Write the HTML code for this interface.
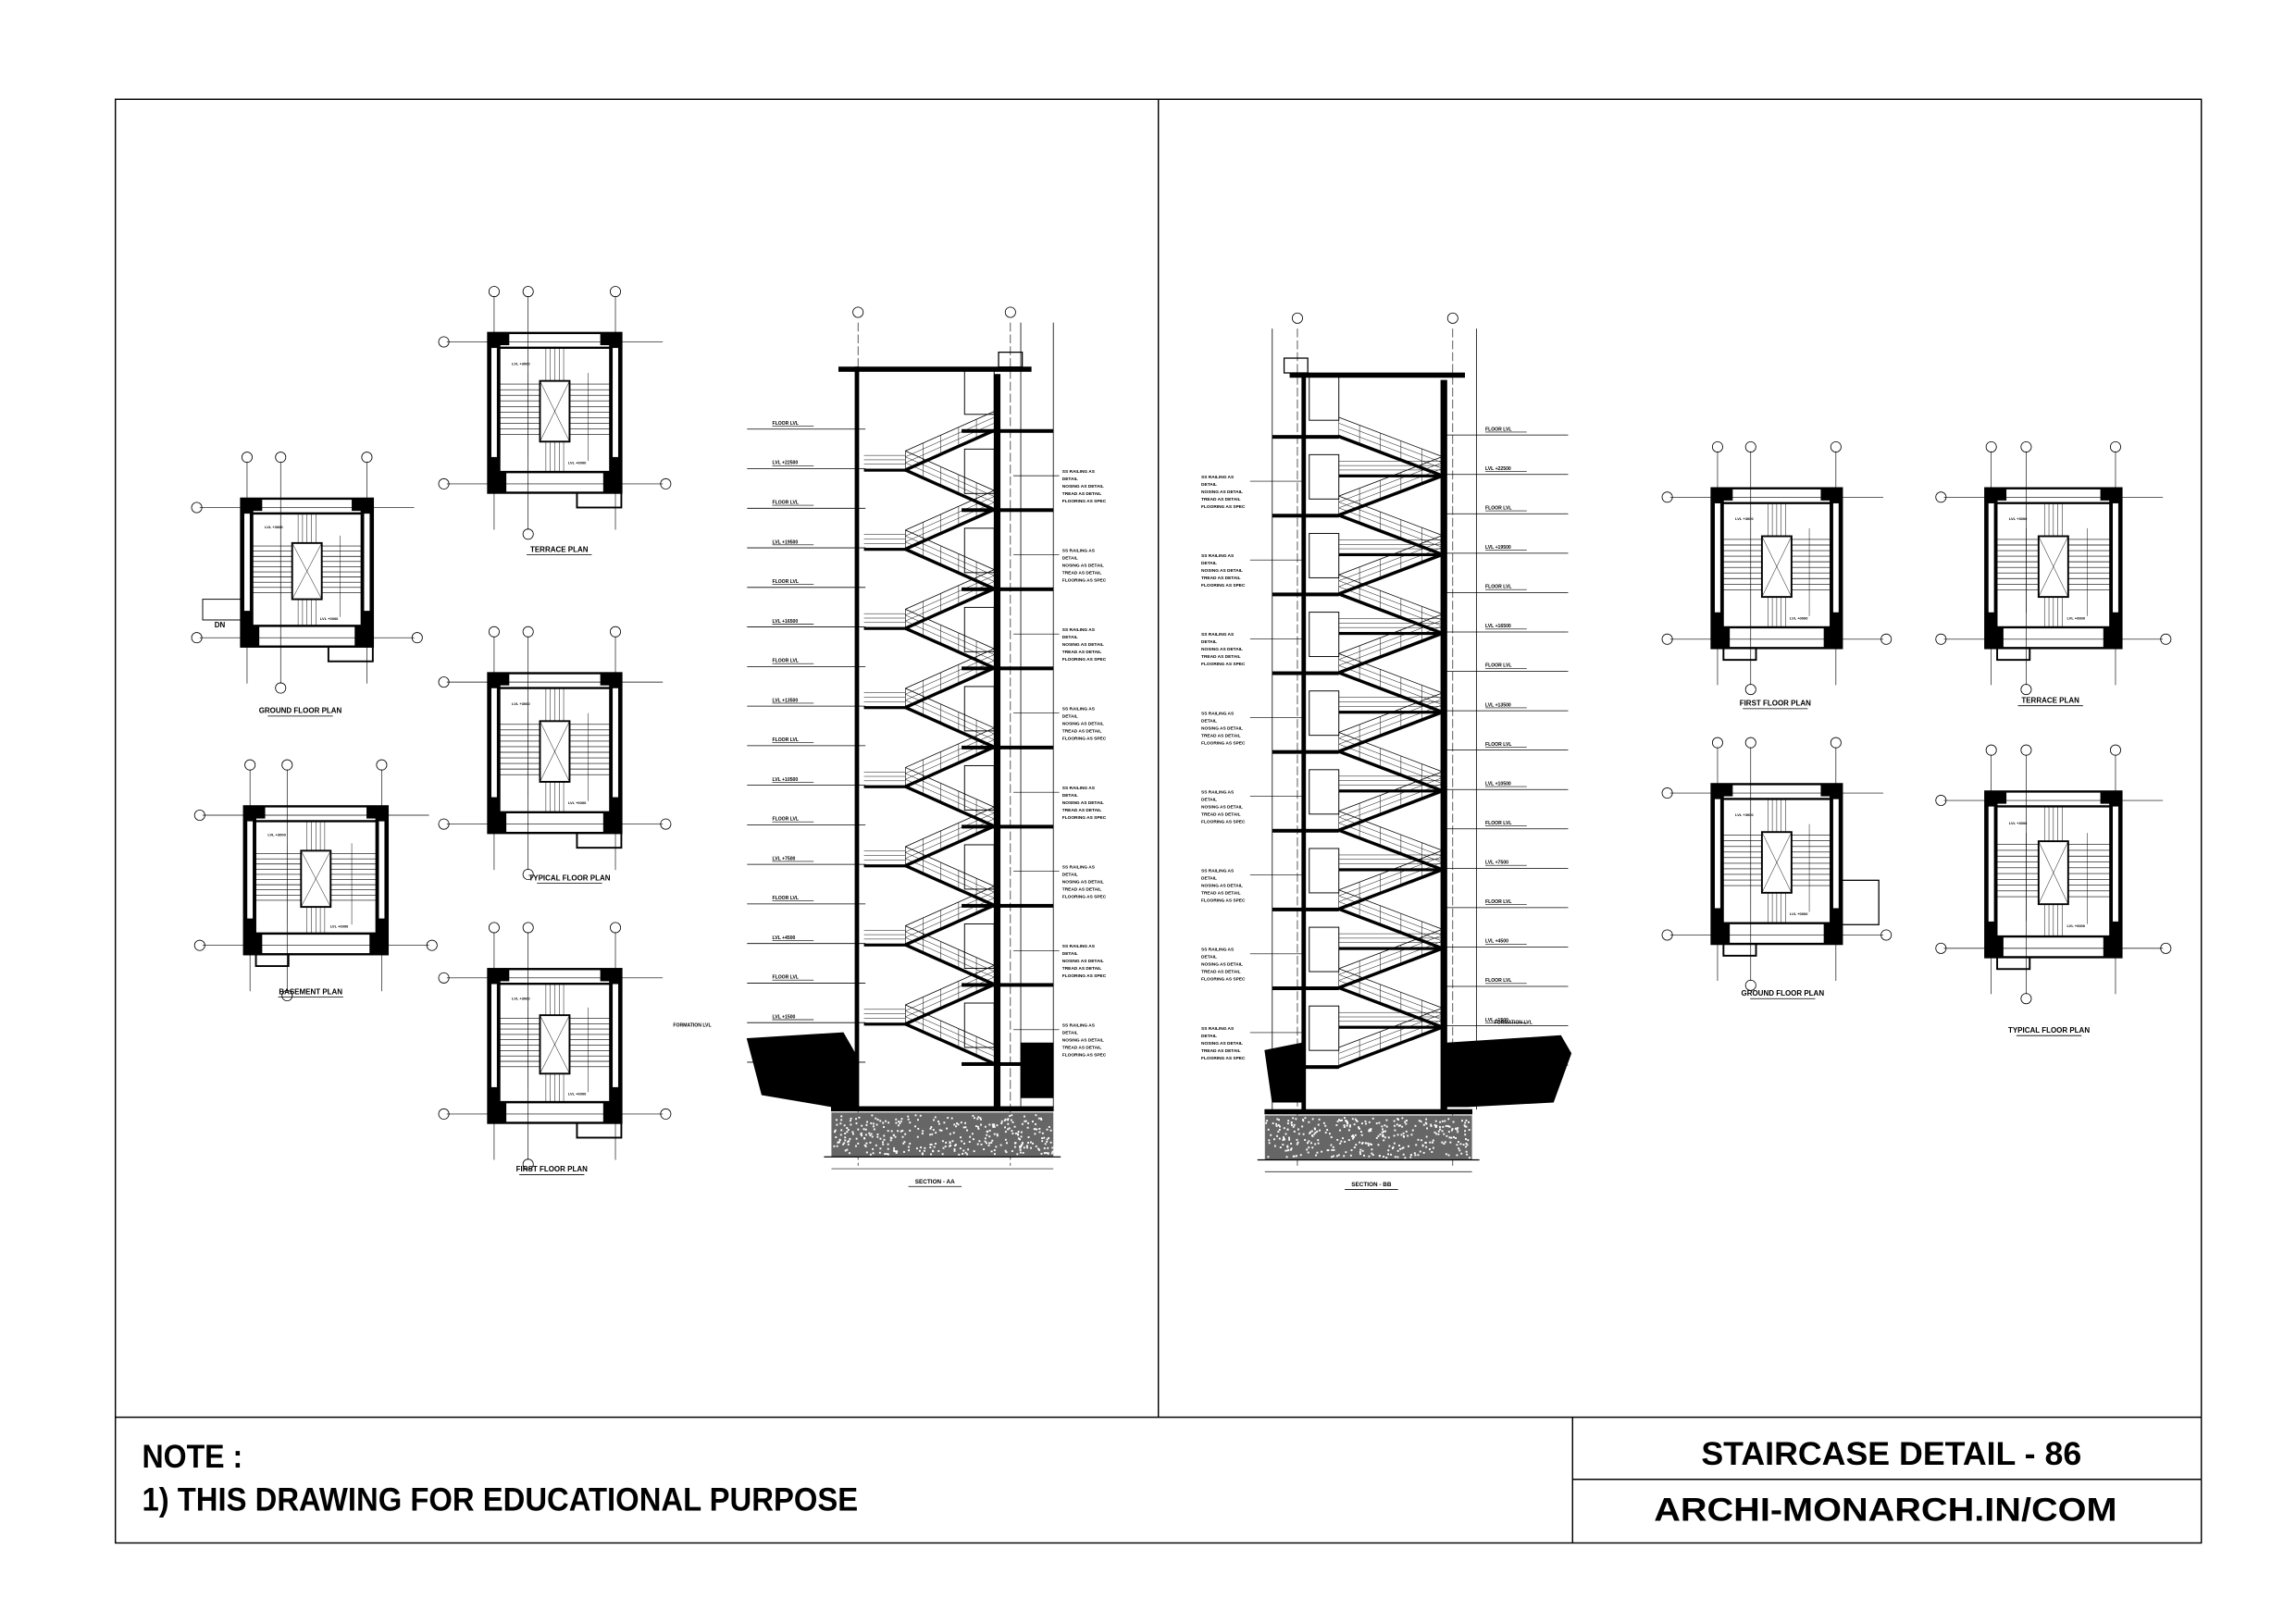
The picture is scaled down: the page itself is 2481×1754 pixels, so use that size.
<!DOCTYPE html>
<html><head><meta charset="utf-8"><style>
html,body{margin:0;padding:0;background:#fff;}
svg{display:block;}
</style></head><body>
<svg id="s" xmlns="http://www.w3.org/2000/svg" width="2481" height="1754" viewBox="0 0 1552 1097">
<rect x="0" y="0" width="1552" height="1097" fill="#fff"/>
<g fill="none" stroke="#000" stroke-width="0.9">
<rect x="78" y="67" width="1410" height="976"/>
<line x1="783" y1="67" x2="783" y2="958"/>
<line x1="78" y1="958" x2="1488" y2="958"/>
<line x1="1063" y1="958" x2="1063" y2="1043"/>
<line x1="1063" y1="1000" x2="1488" y2="1000"/>
</g>
<g font-family="'Liberation Sans Narrow','Liberation Sans',sans-serif" font-weight="bold" font-size="22" fill="#000">
<text x="96" y="992" textLength="68" lengthAdjust="spacingAndGlyphs">NOTE :</text>
<text x="96" y="1021" textLength="484" lengthAdjust="spacingAndGlyphs">1) THIS DRAWING FOR EDUCATIONAL PURPOSE</text>
<text x="1150" y="990" textLength="257" lengthAdjust="spacingAndGlyphs">STAIRCASE DETAIL - 86</text>
<text x="1118" y="1028" textLength="313" lengthAdjust="spacingAndGlyphs">ARCHI-MONARCH.IN/COM</text>
</g>
<g id="d" stroke="#000" fill="none" stroke-width="0.5"></g>
</svg>
<script>
var NS="http://www.w3.org/2000/svg",G=document.getElementById('d');
function el(t,a,p){var e=document.createElementNS(NS,t);for(var k in a)e.setAttribute(k,a[k]);(p||G).appendChild(e);return e;}
function L(x1,y1,x2,y2,w,dash){var a={x1:x1,y1:y1,x2:x2,y2:y2};if(w)a['stroke-width']=w;if(dash)a['stroke-dasharray']=dash;return el('line',a);}
function R(x,y,w,h,f,sw){var a={x:x,y:y,width:w,height:h};if(f)a.fill=f;if(sw!==undefined&&sw!==null)a['stroke-width']=sw;return el('rect',a);}
function T(x,y,s,sz,anchor){var e=el('text',{x:x,y:y,'font-size':sz||3.2,'font-family':'Liberation Sans,sans-serif','font-weight':'bold',fill:'#000',stroke:'none'});if(anchor)e.setAttribute('text-anchor',anchor);e.textContent=s;return e;}
function C(x,y,r){return el('circle',{cx:x,cy:y,r:r||3.5});}

function plan(x,y,w,h,label,lx,ly,door){
  L(x-28,y+6,x+w+28,y+6,0.4);L(x-28,y+h-6,x+w+28,y+h-6,0.4);
  L(x+4,y-25,x+4,y+h+25,0.4);L(x+w-4,y-25,x+w-4,y+h+25,0.4);L(x+w*0.3,y-25,x+w*0.3,y+h+25,0.4);
  C(x-30,y+6);C(x-30,y+h-6);C(x+4,y-28);C(x+w-4,y-28);C(x+w*0.3,y-28);C(x+w*0.3,y+h+28);C(x+w+30,y+h-6);
  R(x,y,w,h,null,1.5);
  R(x,y,8,h-14,'#000');R(x+w-8,y,8,h-14,'#000');
  R(x+2,y+10,4,h-34,'#fff',0.3);R(x+w-6,y+10,4,h-34,'#fff',0.3);
  R(x,y,14,8,'#000');R(x+w-14,y,14,8,'#000');
  R(x,y+h-14,12,14,'#000');R(x+w-12,y+h-14,12,14,'#000');
  L(x+8,y+10,x+w-8,y+10,1.5);
  L(x+8,y+h-14,x+w-8,y+h-14,1.5);
  var cx=x+w/2;R(cx-10,y+h*0.3,20,h*0.38,null,1.2);
  L(cx-10,y+h*0.3,cx+10,y+h*0.68,0.3);L(cx+10,y+h*0.3,cx-10,y+h*0.68,0.3);
  for(var i=0;i<10;i++){var ty=y+h*0.32+i*h*0.035;L(x+8,ty,cx-10,ty,0.4);L(cx+10,ty,x+w-8,ty,0.4);}
  for(var j=0;j<5;j++)L(cx-6+j*3,y+h*0.68,cx-6+j*3,y+h-14,0.3);
  for(var j=0;j<5;j++)L(cx-6+j*3,y+10,cx-6+j*3,y+h*0.3,0.3);
  L(x+w*0.3,y+h*0.25,x+w*0.3,y+h*0.78,0.3);L(x+w*0.75,y+h*0.25,x+w*0.75,y+h*0.8,0.3);
  T(x+16,y+h*0.2,'LVL +3000',2.5);T(x+w*0.6,y+h*0.82,'LVL +0000',2.5);
  if(door){R(x+w-30,y+h,30,10,null,1.2);}else{R(x+8,y+h,22,8,null,1.2);}
  T(lx,ly,label,5,'middle');L(lx-22,ly+2,lx+22,ly+2,0.5);
}
plan(163,337,89,100,'GROUND FLOOR PLAN',203,482,true);
R(137,405,26,14,null,0.6);T(145,424,'DN',5);
plan(165,545,97,100,'BASEMENT PLAN',210,672,false);
plan(330,225,90,108,'TERRACE PLAN',378,373,true);
plan(330,455,90,108,'TYPICAL FLOOR PLAN',385,595,true);
plan(330,655,90,104,'FIRST FLOOR PLAN',373,792,true);
plan(1157,330,88,108,'FIRST  FLOOR PLAN',1200,477,false);
plan(1342,330,92,108,'TERRACE PLAN',1386,475,false);
plan(1157,530,88,108,'GROUND FLOOR PLAN',1205,673,false);
R(1245,595,25,30,null,0.8);
plan(1342,535,92,112,'TYPICAL  FLOOR PLAN',1385,698,false);

function section(o){
  var l=o.l,r=o.r,top=o.top,bot=o.bot;
  L(o.ax1,top-30,o.ax1,bot+40,0.4,'6 2');L(o.ax2,top-30,o.ax2,bot+40,0.4,'6 2');C(o.ax1,top-37);C(o.ax2,top-37);
  R(l-8,top,r-l+20,3,'#000');R(o.pl,top-10,16,10,null,0.8);
  R(o.wl,top,2.5,bot-top,'#000');R(o.wr,top+5,4,bot-top-5,'#000');
  L(o.ox1,top-30,o.ox1,bot,0.5);L(o.ox2,top-30,o.ox2,bot,0.5);
  var n=16,step=(bot-30-(top+42))/n;
  for(var i=0;i<=n;i++){
    var yy=top+42+i*step;
    L(o.lx1,yy,o.lx2,yy,0.5);
    T(o.tx,yy-3,i%2?'LVL +'+(3000*(8-i/2)|0):'FLOOR LVL',3.2);L(o.tx,yy-2,o.tx+28,yy-2,0.4);
    if(i<n){
      var y2=yy+step,a=(i%2==0)?o.s2:o.s1,b=(i%2==0)?o.s1:o.s2;
      el('polygon',{points:a+','+yy+' '+a+','+(yy+1.8)+' '+b+','+(y2+1.8)+' '+b+','+y2,fill:'#000'});
      L(a,yy-12,b,y2-12,0.5);L(a,yy-8,b,y2-8,0.3);L(a,yy-4,b,y2-4,0.3);
      for(var k=0;k<6;k++){var xx=a+(b-a)*k/5,y3=yy+(y2-yy)*k/5;L(xx,y3,xx,y3-12,0.3);}
    }
    if(i%2==1){R(o.land1,yy,o.land2-o.land1,2,'#000',0);for(var m=0;m<3;m++)L(o.land1,yy-3-m*3,o.land2,yy-3-m*3,0.3);}
    else {R(o.fs1,yy,o.fs2-o.fs1,2.5,'#000',0);R(o.s2-20,yy-40,20,30,null,0.6);}
    if(i%2==0&&i>0){for(var q=0;q<5;q++)T(o.nx,yy-24+q*5,['SS RAILING AS','DETAIL','NOSING AS DETAIL','TREAD AS DETAIL','FLOORING AS SPEC'][q],3);L(o.nl1,yy-22,o.nl2,yy-22,0.4);}
  }
  el('polygon',{points:o.g1,fill:'#000'});el('polygon',{points:o.g2,fill:'#000'});
  R(o.f1,bot,o.f2-o.f1,3,'#000');
  R(o.f1,bot+4,o.f2-o.f1,30,'#666',0);
  for(var z=0;z<350;z++){var fx=o.f1+Math.random()*(o.f2-o.f1-1),fy=bot+5+Math.random()*27;R(fx,fy,1.2,1.2,'#fff',0);}
  L(o.f1-5,bot+34,o.f2+5,bot+34,0.8);
  L(o.f1,bot+42,o.f2,bot+42,0.4);
  T(o.lbx,bot+52,o.lab,4,'middle');L(o.lbx-18,bot+54,o.lbx+18,bot+54,0.5);
}
section({l:575,r:685,top:248,bot:748,ax1:580,ax2:683,pl:675,wl:578,wr:672,ox1:690,ox2:712,lx1:505,lx2:585,tx:522,
 s1:612,s2:672,land1:584,land2:612,fs1:650,fs2:712,nx:718,nl1:685,nl2:716,
 g1:'505,702 570,698 578,712 578,748 562,748 515,740',g2:'690,705 712,705 712,742 690,742',f1:562,f2:712,lbx:632,lab:'SECTION - AA'});
section({l:880,r:978,top:252,bot:750,ax1:877,ax2:982,pl:868,wl:880,wr:974,ox1:860,ox2:998,lx1:975,lx2:1060,tx:1004,
 s1:975,s2:905,land1:905,land2:975,fs1:860,fs2:905,nx:812,nl1:845,nl2:880,
 g1:'978,705 1055,700 1062,712 1050,745 992,748 978,748',g2:'855,710 880,705 880,745 860,745',f1:855,f2:995,lbx:927,lab:'SECTION - BB'});
T(1010,692,'FORMATION LVL',3.2);T(455,694,'FORMATION LVL',3.2);
</script>
</body></html>
